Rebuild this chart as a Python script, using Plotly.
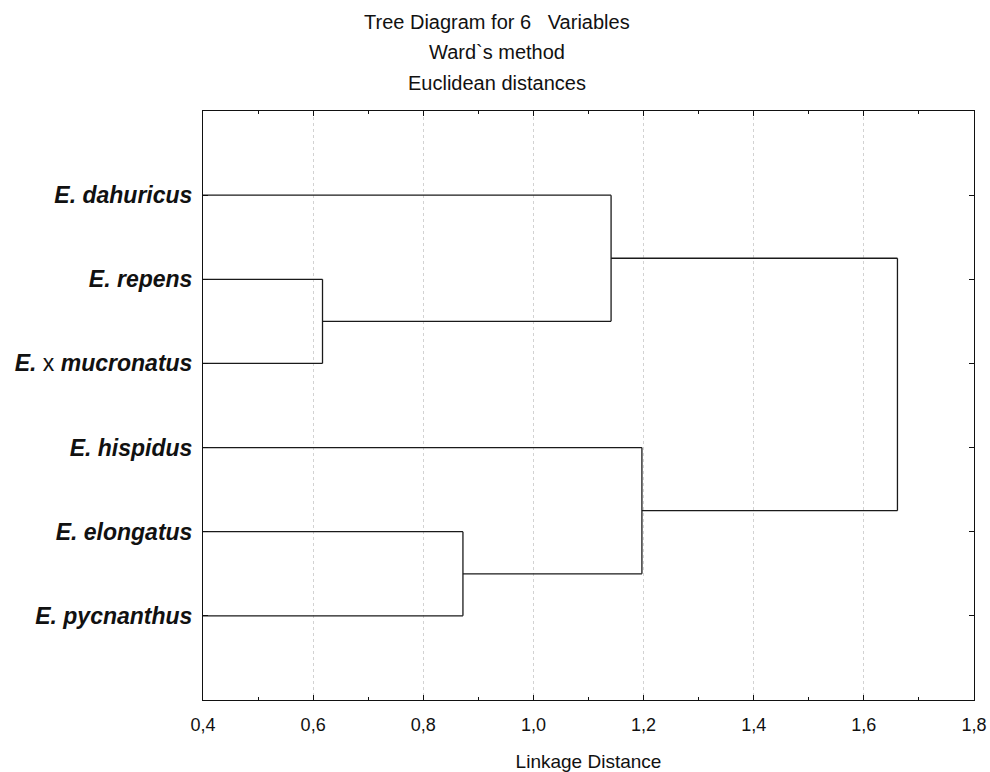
import plotly.graph_objects as go

# ---- data ----
leaf_labels = ["<b><i>E. dahuricus</i></b>", "<b><i>E. repens</i></b>",
               "<b><i>E.</i></b> x <b><i>mucronatus</i></b>", "<b><i>E. hispidus</i></b>",
               "<b><i>E. elongatus</i></b>", "<b><i>E. pycnanthus</i></b>"]
# merges: (child_a, child_b, linkage distance); nodes 0-5 leaves, 6+ clusters
merges = [(1, 2, 0.617), (0, 6, 1.141), (4, 5, 0.872), (3, 8, 1.197), (7, 9, 1.661)]
x_ticks = [0.4, 0.6, 0.8, 1.0, 1.2, 1.4, 1.6, 1.8]
title_lines = ["Tree Diagram for 6\u00a0\u00a0\u00a0Variables", "Ward`s method", "Euclidean distances"]
x_title = "Linkage Distance"

x_min, x_max = 0.4, 1.8
n = len(leaf_labels)
leaf_pos = list(range(1, n + 1))

# build dendrogram segments
pos = {i: leaf_pos[i] for i in range(n)}
hgt = {i: x_min for i in range(n)}
xs, ys = [], []
for k, (a, b, d) in enumerate(merges):
    node = n + k
    for c in (a, b):
        xs += [hgt[c], d, None]
        ys += [pos[c], pos[c], None]
    xs += [d, d, None]
    ys += [pos[a], pos[b], None]
    pos[node] = (pos[a] + pos[b]) / 2
    hgt[node] = d

fig = go.Figure()
fig.add_trace(go.Scatter(x=xs, y=ys, mode="lines",
                         line=dict(color="#1a1a1a", width=1.3),
                         hoverinfo="skip", showlegend=False))

font_fam = "Arial, Liberation Sans, sans-serif"
W, H = 990, 772
ml, mr, mt, mb = 203, 16, 111, 72
ph = H - mt - mb
pw = W - ml - mr

title_centers = [22, 52, 83]
for txt, yc in zip(title_lines, title_centers):
    fig.add_annotation(text=txt, xref="paper", yref="paper",
                       x=(497 - ml) / pw, y=1 + (mt - yc) / ph,
                       xanchor="center", yanchor="middle", showarrow=False,
                       font=dict(family=font_fam, size=20, color="#111"))

fig.update_layout(
    width=W, height=H,
    margin=dict(l=ml, r=mr, t=mt, b=mb, autoexpand=False),
    paper_bgcolor="white", plot_bgcolor="white",
    separators=",.",
    font=dict(family=font_fam, color="#111"),
    xaxis=dict(range=[x_min, x_max], tickvals=x_ticks, tickformat=".1f",
               ticks="inside", ticklen=5, tickcolor="#111", tickwidth=1,
               minor=dict(ticks="inside", ticklen=3, dtick=0.1, tickcolor="#111", showgrid=False),
               showline=True, linecolor="#111", linewidth=1, mirror="ticks",
               showgrid=True, gridcolor="#d2d2d2", griddash="dot", gridwidth=1,
               zeroline=False, tickfont=dict(size=18), automargin=False,
               ticklabelstandoff=8,
               title=dict(text=x_title, font=dict(size=19), standoff=21)),
    yaxis=dict(range=[n + 1, 0], tickvals=leaf_pos, ticktext=leaf_labels,
               ticks="inside", ticklen=5, tickcolor="#111", tickwidth=1,
               showline=True, linecolor="#111", linewidth=1, mirror="ticks",
               showgrid=False, zeroline=False, automargin=False,
               tickfont=dict(size=23), ticklabelstandoff=5),
)

fig.write_html("out.html",
               config={"displayModeBar": False},
               post_script="document.body.style.margin='0';document.body.style.overflow='hidden';")
